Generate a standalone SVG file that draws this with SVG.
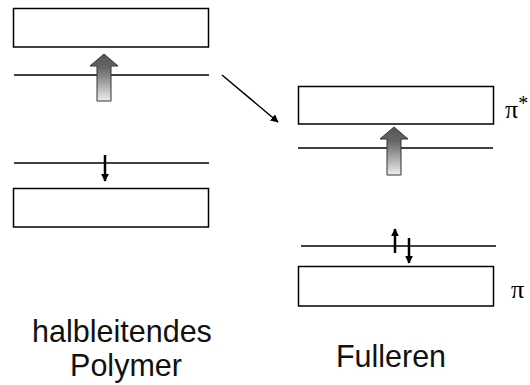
<svg xmlns="http://www.w3.org/2000/svg" width="530" height="385" viewBox="0 0 530 385">
<style>
.band{fill:#fff;stroke:#000;stroke-width:1.5}
.lvl{stroke:#000;stroke-width:1.3;fill:none}
.bigarrow{fill:url(#g);stroke:#333;stroke-width:1}
.lbl{font-family:"Liberation Sans",Arial,sans-serif;font-size:30.5px;fill:#111;text-anchor:middle}
.pi{font-family:"Liberation Serif","DejaVu Serif",serif;font-size:26px;fill:#000}
</style>
<defs>
<linearGradient id="g" x1="0" y1="0" x2="0" y2="1">
<stop offset="0" stop-color="#555"/>
<stop offset="0.3" stop-color="#666"/>
<stop offset="1" stop-color="#eee"/>
</linearGradient>
<marker id="ah" viewBox="0 0 10 10" refX="9" refY="5" markerWidth="8" markerHeight="8" markerUnits="userSpaceOnUse" orient="auto">
<path d="M0,0 L10,5 L0,10 z" fill="#000"/>
</marker>
</defs>
<g id="polymer-lumo-band"><rect class="band" x="13.5" y="8.5" width="195" height="38.5"/></g>
<g id="polymer-lumo"><line class="lvl" x1="14" y1="75" x2="209" y2="75"/></g>
<g id="polymer-homo"><line class="lvl" x1="14" y1="163" x2="209" y2="163"/></g>
<g id="polymer-homo-band"><rect class="band" x="13.5" y="188.5" width="195" height="38.5"/></g>
<g id="fullerene-lumo-band"><rect class="band" x="298.5" y="86.5" width="195" height="37.5"/></g>
<g id="fullerene-lumo"><line class="lvl" x1="298" y1="148" x2="493" y2="148"/></g>
<g id="fullerene-homo"><line class="lvl" x1="301" y1="246" x2="496" y2="246"/></g>
<g id="fullerene-homo-band"><rect class="band" x="298.5" y="266.5" width="195" height="39.5"/></g>
<g id="excitation-polymer"><path class="bigarrow" d="M97,101 L97,66 L90,66 L104,54 L118,66 L111,66 L111,101 Z"/></g>
<g id="excitation-fullerene"><path class="bigarrow" d="M387,175 L387,139 L380,139 L394,127 L408,139 L401,139 L401,175 Z"/></g>
<g id="connectors">
<line x1="222" y1="75" x2="278" y2="122" stroke="#000" stroke-width="1.5" marker-end="url(#ah)"/>
<line x1="105" y1="155" x2="105" y2="181" stroke="#000" stroke-width="2.5" marker-end="url(#ah)"/>
<line x1="395" y1="253" x2="395" y2="229" stroke="#000" stroke-width="2.5" marker-end="url(#ah)"/>
<line x1="409" y1="238" x2="409" y2="263" stroke="#000" stroke-width="2.5" marker-end="url(#ah)"/>
</g>
<g id="labels">
<text class="pi" x="505" y="118">π<tspan font-size="20" dy="-8">*</tspan></text>
<text class="pi" x="511" y="298">π</text>
<text class="lbl" x="122" y="342">halbleitendes</text>
<text class="lbl" x="126" y="376">Polymer</text>
<text class="lbl" x="391" y="367">Fulleren</text>
</g>
</svg>
